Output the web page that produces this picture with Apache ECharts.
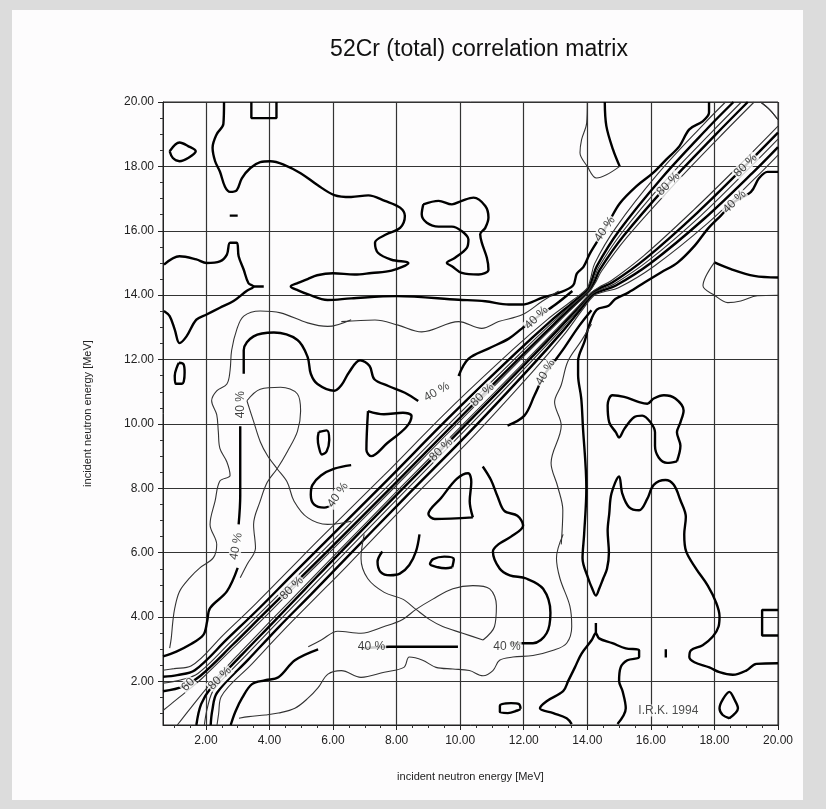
<!DOCTYPE html>
<html>
<head>
<meta charset="utf-8">
<script src="https://cdn.jsdelivr.net/npm/echarts@6/dist/echarts.min.js"></script>
<style>
html,body{margin:0;padding:0;background:#dcdcdc;}
#chart{width:826px;height:809px;}
</style>
</head>
<body>
<div id="chart"></div>
<script>
// Axis range and tick values (MeV)
const axisMin = 0.65;
const axisMax = 20;
const majorTicks = [2, 4, 6, 8, 10, 12, 14, 16, 18, 20];
const minorTicks = [1, 1.5, 2.5, 3, 3.5, 4.5, 5, 5.5, 6.5, 7, 7.5, 8.5, 9, 9.5, 10.5, 11, 11.5,
  12.5, 13, 13.5, 14.5, 15, 15.5, 16.5, 17, 17.5, 18.5, 19, 19.5];

// Contour lines of the upper triangle (y > x); the matrix is symmetric,
// so the lower triangle is the same set with x and y swapped.
// 40 % level (thick)
const c40_loopTopLeft = [[0.86,18.47],[1.17,18.74],[1.44,18.63],[1.68,18.47],[1.44,18.26],[1.17,18.16],[0.96,18.26],[0.86,18.47]];
const c40_boxTop = [[3.43,20],[3.43,19.5],[4.22,19.5],[4.22,20]];
const c40_dash = [[2.75,16.47],[3.0,16.47]];
const c40_upper = [[2.57,20],[2.55,19.32],[2.34,19.0],[2.21,18.58],[2.29,18.16],[2.44,17.84],[2.6,17.37],[2.76,17.21],[2.97,17.26],[3.13,17.63],[3.4,17.95],[3.71,18.13],[4.03,18.16],[4.46,18.05],[4.98,17.79],[5.51,17.42],[6.04,17.11],[6.57,17.05],[7.11,17.1],[7.63,16.93],[8.11,16.72],[8.26,16.46],[8.11,16.09],[7.68,15.89],[7.32,15.63],[7.42,15.31],[7.84,15.1],[8.37,15.0],[7.84,14.76],[7.21,14.69],[6.68,14.64],[6.0,14.68],[5.5,14.62],[5.2,14.5],[4.9,14.38],[4.67,14.27],[4.9,14.15],[5.2,14.03],[5.83,13.85],[6.57,13.9],[8.0,13.97],[9.95,13.86],[10.79,13.81],[11.53,13.71],[11.95,13.71],[12.58,13.92],[13.1,14.07],[13.55,14.3],[13.67,14.67],[13.88,14.88],[14.08,15.29],[14.4,15.81],[14.71,16.33],[15.02,16.85],[15.54,17.38],[16.06,17.79],[16.48,18.21],[16.9,18.63],[17.21,19.15],[17.63,19.4],[17.83,19.67],[17.83,20]];
const c40_loopMid = [[8.84,16.82],[9.32,16.93],[9.74,16.82],[10.05,16.93],[10.42,17.03],[10.79,16.77],[10.89,16.41],[10.79,16.09],[10.63,15.89],[10.68,15.63],[10.84,15.16],[10.89,14.79],[10.58,14.64],[10.05,14.69],[9.74,14.9],[9.58,15.0],[9.84,15.16],[10.21,15.47],[10.26,15.73],[10.05,15.99],[9.74,16.13],[9.32,16.13],[8.95,16.25],[8.79,16.51],[8.84,16.82]];
const c40_leftEdge = [[0.68,14.95],[1.17,15.21],[1.7,15.11],[2.02,15.0],[2.44,15.05],[2.66,15.26],[2.76,15.63],[2.97,15.63],[3.03,15.21],[3.19,14.79],[3.34,14.37],[3.5,14.27],[3.29,14.14],[2.87,13.82],[2.44,13.61],[2.02,13.40],[1.70,13.24],[1.39,12.72],[1.17,12.51],[1.02,12.93],[0.86,13.35],[0.68,13.51]];
const c40_spur = [[3.5,14.27],[3.82,14.27]];
const c40_island1 = [[1.15,11.9],[1.3,11.85],[1.33,11.6],[1.25,11.25],[1.05,11.25],[1.02,11.5],[1.1,11.8],[1.15,11.9]];
const c40_island2 = [[5.55,9.75],[5.8,9.8],[5.88,9.5],[5.8,9.15],[5.65,9.05],[5.55,9.3],[5.52,9.55],[5.55,9.75]];
const c40_arch = [[3.19,11.56],[3.19,12.29],[3.5,12.72],[4.14,12.84],[4.88,12.61],[5.2,12.08],[5.3,11.56],[5.51,11.24],[6.04,11.03],[6.26,11.2],[6.5,11.6],[6.85,11.98],[7.15,11.8],[7.3,11.39],[7.74,11.18],[8.26,10.97],[8.68,10.71]];
const c40_bandUpper = [[9.95,11.49],[10.26,12.02],[10.89,12.34],[11.53,12.65],[11.95,12.97],[12.37,13.28],[13.0,13.71],[13.53,14.13]];
const c40_column = [[3.08,9.93],[3.08,7.77],[3.03,6.88]];
const c40_lowLeft = [[3.0,5.53],[2.66,4.8],[2.13,4.28],[2.04,3.87],[1.92,3.45],[1.49,3.14],[1.07,2.93],[0.65,2.78]];
const c40_island3 = [[7.1,10.4],[7.6,10.3],[8.2,10.35],[8.47,10.25],[8.3,9.9],[7.7,9.4],[7.2,9.0],[7.05,9.2],[7.1,10.4]];
const c40_hook = [[6.57,8.72],[6.04,8.61],[5.62,8.4],[5.35,8.1],[5.3,7.8],[5.4,7.5],[5.72,7.4],[6.04,7.55]];
const c40_uTop = [[14.55,20],[14.6,19.25],[14.81,18.52],[15.02,18.0]];

// thin contour lines
const cThin_a = [[6.57,13.24],[5.83,13.03],[5.2,13.14],[4.35,13.45],[3.71,13.51],[3.19,13.35],[2.97,12.93],[2.81,12.29],[2.76,11.66],[2.66,11.24],[2.34,11.03],[2.18,10.72],[2.34,10.29],[2.39,9.77],[2.44,9.24],[2.66,8.82],[2.76,8.4],[2.44,8.23],[2.29,7.61],[2.13,6.88],[2.34,6.26],[2.23,5.84],[1.81,5.53],[1.49,5.22],[1.17,4.8],[1.02,4.28],[0.96,3.87],[0.91,3.35],[0.86,3.04]];
const cThin_b = [[6.26,13.18],[7.32,13.23],[8.05,13.07],[8.79,12.86],[9.95,13.18],[10.68,12.97],[11.21,13.18],[11.95,13.39],[12.58,13.81],[13.1,14.13]];
const cThin_c = [[3.29,10.72],[3.71,11.08],[4.35,11.14],[4.88,10.93],[4.98,10.4],[4.88,9.77],[4.56,9.14],[4.24,8.61],[3.93,8.19],[3.71,7.61],[3.5,6.88],[3.56,6.15],[3.29,5.63],[3.08,5.22]];
const cThin_d = [[3.29,10.72],[3.5,10.08],[3.71,9.45],[3.93,9.03],[4.24,8.61],[4.56,8.19],[4.77,7.61],[5.2,7.09],[5.83,6.88],[6.57,6.98]];
const cThin_u = [[14,20],[13.98,19.35],[13.82,18.83],[13.77,18.42],[14.0,18.0],[14.29,17.64],[15.02,18.0]];
const cThin_corner = [[19.45,20],[19.75,19.75],[20,19.45]];

// ridge along the diagonal (upper side), levels 90 % down to 50 %
const b90 = [[0.65,1.1],[0.9,1.3],[1.4,1.7],[1.89,2.11],[2.91,3.09],[3.93,4.08],[4.93,5.07],[5.94,6.06],[7.95,8.05],[9.95,10.05],[11.95,12.05],[12.96,13.04],[13.67,13.73],[14.08,14.13],[14.24,14.36],[14.45,14.75],[15.23,15.78],[16.65,17.35],[18.13,18.88],[19.25,20]];
const b80 = [[0.65,1.7],[1.3,1.85],[1.83,2.18],[2.85,3.15],[3.86,4.14],[4.88,5.13],[5.89,6.11],[7.9,8.1],[9.9,10.1],[11.91,12.09],[12.93,13.08],[13.65,13.75],[14.06,14.14],[14.21,14.39],[14.4,14.8],[15.15,15.85],[16.55,17.45],[18.03,18.98],[19.05,20]];
const b70 = [[0.65,1.95],[1.2,2.05],[1.75,2.25],[2.78,3.23],[3.79,4.21],[4.8,5.2],[5.81,6.19],[7.83,8.18],[9.83,10.18],[11.85,12.15],[12.88,13.13],[13.62,13.78],[14.04,14.16],[14.18,14.43],[14.35,14.85],[15.08,15.93],[16.45,17.55],[17.93,19.08],[18.85,20]];
const b60 = [[0.65,2.15],[1.1,2.2],[1.65,2.35],[2.68,3.33],[3.7,4.3],[4.7,5.3],[5.71,6.29],[7.73,8.28],[9.73,10.28],[11.78,12.23],[12.83,13.18],[13.59,13.81],[14.02,14.18],[14.14,14.46],[14.3,14.9],[15.0,16.0],[16.35,17.65],[17.8,19.2],[18.6,20]];
const b50 = [[0.65,2.35],[1.0,2.4],[1.53,2.48],[2.55,3.45],[3.58,4.43],[4.58,5.43],[5.58,6.43],[7.6,8.4],[9.6,10.4],[11.68,12.33],[12.75,13.25],[13.55,13.85],[13.99,14.21],[14.1,14.5],[14.23,14.98],[14.9,16.1],[16.23,17.78],[17.68,19.33],[18.35,20]];

const thickLines = [c40_loopTopLeft, c40_dash, c40_upper, c40_loopMid, c40_leftEdge, c40_spur,
  c40_island1, c40_island2, c40_arch, c40_bandUpper, c40_column, c40_lowLeft, c40_island3, c40_hook, c40_uTop, b80, b60];
const boxLines = [c40_boxTop];
const thinLines = [cThin_a, cThin_b, cThin_c, cThin_d, cThin_u, cThin_corner, b90, b70, b50];

// level labels: [x, y, text, rotation]
const levelLabels = [
  [3.08, 10.6, '40 %', 90], [2.95, 6.2, '40 %', 80], [9.26, 11.0, '40 %', 30],
  [7.21, 3.08, '40 %', 0], [11.47, 3.08, '40 %', 0], [6.15, 7.8, '40 %', 55],
  [12.68, 11.6, '40 %', 60], [12.4, 13.3, '40 %', 45], [10.7, 10.9, '80 %', 45], [9.4, 9.2, '80 %', 45],
  [14.55, 16.05, '40 %', 55], [16.55, 17.45, '80 %', 45], [18.98, 18.03, '80 %', 45], [18.63, 16.9, '40 %', 45],
  [4.7, 4.9, '80 %', 45], [2.44, 2.1, '80 %', 45], [1.44, 1.9, '60', 45]
];

const mirror = line => line.map(p => [p[1], p[0]]);

const series = [];
function addLine(pts, width, color, smooth) {
  series.push({
    type: 'line', data: pts, showSymbol: false, smooth: smooth,
    lineStyle: { width: width, color: color }, clip: true, silent: true, z: 3
  });
}
thickLines.forEach(l => { addLine(l, 2.4, '#000', 0.35); addLine(mirror(l), 2.4, '#000', 0.35); });
boxLines.forEach(l => { addLine(l, 2.4, '#000', false); addLine(mirror(l), 2.4, '#000', false); });
thinLines.forEach(l => { addLine(l, 1.1, '#333', 0.35); addLine(mirror(l), 1.1, '#333', 0.35); });

series.push({
  type: 'scatter', symbolSize: 0, z: 5, silent: true,
  data: levelLabels.map(d => ({
    value: [d[0], d[1]],
    label: { show: true, formatter: d[2], rotate: d[3], position: 'inside',
      fontFamily: 'Liberation Sans', fontSize: 12, color: '#111',
      backgroundColor: '#fdfcfd', padding: [0, 1] }
  }))
});
series.push({
  type: 'scatter', symbolSize: 0, z: 5, silent: true,
  data: [{ value: [16.55, 1.1], label: { show: true, formatter: 'I.R.K. 1994', position: 'inside',
    fontFamily: 'Liberation Sans', fontSize: 12, color: '#222', backgroundColor: '#fdfcfd' } }]
});

const fmt = v => v.toFixed(2);
const chart = echarts.init(document.getElementById('chart'), null, { renderer: 'canvas' });
chart.setOption({
  animation: false,
  backgroundColor: '#dcdcdc',
  graphic: [
    { type: 'rect', shape: { x: 12, y: 10, width: 791, height: 790 }, style: { fill: '#fdfcfd' }, z: -10 }
  ],
  title: {
    text: '52Cr (total) correlation matrix', left: 474, top: 33, textAlign: 'center',
    textStyle: { fontFamily: 'Liberation Sans', fontSize: 23, fontWeight: 'normal', color: '#111' }
  },
  grid: { left: 163, right: 48, top: 102, bottom: 84, show: true, borderColor: '#222', borderWidth: 1, backgroundColor: 'transparent' },
  xAxis: [{
    type: 'value', min: axisMin, max: axisMax, position: 'bottom',
    name: 'incident neutron energy [MeV]', nameLocation: 'middle', nameGap: 46,
    nameTextStyle: { fontFamily: 'Liberation Sans', fontSize: 11, color: '#222' },
    axisLine: { show: true, lineStyle: { color: '#222', width: 1 } },
    axisTick: { show: true, customValues: majorTicks, length: 5, lineStyle: { color: '#222' } },
    axisLabel: { customValues: majorTicks, formatter: fmt, fontFamily: 'Liberation Sans', fontSize: 12, color: '#222', margin: 10 },
    splitLine: { show: true, lineStyle: { color: '#333', width: 1.2 } }
  }, {
    type: 'value', min: axisMin, max: axisMax, position: 'bottom', gridIndex: 0,
    axisLine: { show: false }, axisLabel: { show: false }, splitLine: { show: false },
    axisTick: { show: true, customValues: minorTicks, length: 3, lineStyle: { color: '#333' } }
  }],
  yAxis: [{
    type: 'value', min: axisMin, max: axisMax, position: 'left',
    name: 'incident neutron energy [MeV]', nameLocation: 'middle', nameGap: 70, nameRotate: 90,
    nameTextStyle: { fontFamily: 'Liberation Sans', fontSize: 11, color: '#222' },
    axisLine: { show: true, lineStyle: { color: '#222', width: 1 } },
    axisTick: { show: true, customValues: majorTicks, length: 5, lineStyle: { color: '#222' } },
    axisLabel: { customValues: majorTicks, formatter: fmt, fontFamily: 'Liberation Sans', fontSize: 12, color: '#222', margin: 9 },
    splitLine: { show: true, lineStyle: { color: '#333', width: 1.2 } }
  }, {
    type: 'value', min: axisMin, max: axisMax, position: 'left', gridIndex: 0,
    axisLine: { show: false }, axisLabel: { show: false }, splitLine: { show: false },
    axisTick: { show: true, customValues: minorTicks, length: 3, lineStyle: { color: '#333' } }
  }],
  series: series
});
</script>
</body>
</html>
